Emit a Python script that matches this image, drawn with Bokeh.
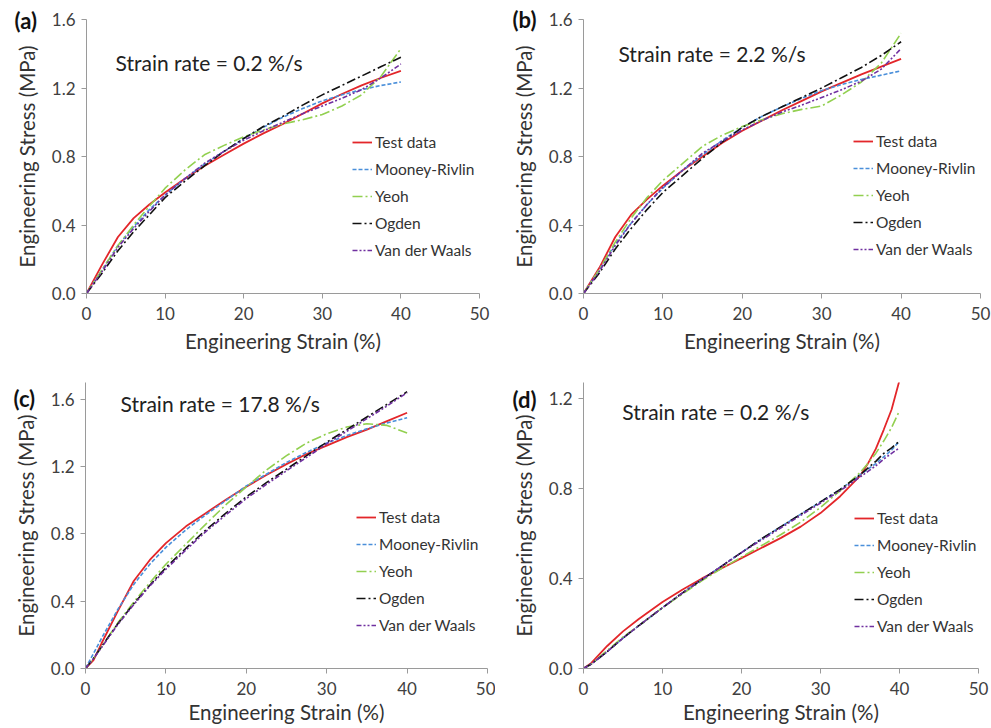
from bokeh.plotting import figure
from bokeh.models import Legend, LegendItem, Label, FixedTicker, PrintfTickFormatter, Range1d
from bokeh.layouts import column, row
from bokeh.embed import file_html
from bokeh.resources import INLINE

FONT = "Lato"

# ---------------- data ----------------
series_names = ["Test data", "Mooney-Rivlin", "Yeoh", "Ogden", "Van der Waals"]

# Panel (a) strain rate 0.2 %/s
strain_a = [0, 2, 4, 6, 8, 10, 12.5, 15, 17.5, 20, 22.5, 25, 27.5, 30, 32.5, 35, 37.5, 40]
test_a   = [0, 0.17, 0.33, 0.44, 0.52, 0.59, 0.67, 0.745, 0.81, 0.875, 0.935, 0.99, 1.05, 1.11, 1.165, 1.215, 1.26, 1.30]
mooney_a = [0, 0.14, 0.28, 0.39, 0.49, 0.575, 0.67, 0.755, 0.83, 0.905, 0.97, 1.03, 1.08, 1.125, 1.16, 1.19, 1.215, 1.235]
yeoh_a   = [0, 0.14, 0.28, 0.40, 0.51, 0.615, 0.72, 0.81, 0.865, 0.915, 0.955, 0.99, 1.015, 1.045, 1.095, 1.16, 1.27, 1.43]
ogden_a  = [0, 0.12, 0.25, 0.36, 0.46, 0.56, 0.655, 0.745, 0.83, 0.905, 0.975, 1.035, 1.10, 1.16, 1.215, 1.27, 1.325, 1.38]
vdw_a    = [0, 0.13, 0.27, 0.38, 0.48, 0.575, 0.67, 0.76, 0.83, 0.895, 0.95, 1.0, 1.05, 1.095, 1.14, 1.19, 1.26, 1.34]

# Panel (b) strain rate 2.2 %/s
strain_b = [0, 2, 4, 6, 8, 10, 12.5, 15, 17.5, 20, 22.5, 25, 27.5, 30, 32.5, 35, 37.5, 40]
test_b   = [0, 0.15, 0.33, 0.46, 0.55, 0.63, 0.72, 0.80, 0.88, 0.95, 1.01, 1.07, 1.125, 1.18, 1.23, 1.28, 1.325, 1.37]
mooney_b = [0, 0.14, 0.29, 0.41, 0.52, 0.615, 0.72, 0.81, 0.895, 0.97, 1.035, 1.09, 1.14, 1.185, 1.22, 1.25, 1.275, 1.30]
yeoh_b   = [0, 0.14, 0.30, 0.44, 0.56, 0.66, 0.76, 0.86, 0.925, 0.975, 1.015, 1.05, 1.075, 1.095, 1.16, 1.235, 1.345, 1.52]
ogden_b  = [0, 0.12, 0.26, 0.38, 0.49, 0.59, 0.69, 0.79, 0.885, 0.97, 1.035, 1.09, 1.145, 1.20, 1.26, 1.32, 1.39, 1.47]
vdw_b    = [0, 0.13, 0.28, 0.41, 0.52, 0.62, 0.72, 0.82, 0.89, 0.955, 1.01, 1.06, 1.10, 1.145, 1.19, 1.24, 1.31, 1.43]

# Panel (c) strain rate 17.8 %/s
strain_c = [0, 1, 2, 4, 6, 8, 10, 12.5, 15, 17.5, 20, 22.5, 25, 27.5, 30, 32.5, 35, 37.5, 40]
test_c   = [0, 0.05, 0.15, 0.34, 0.52, 0.645, 0.745, 0.845, 0.925, 1.005, 1.08, 1.15, 1.215, 1.275, 1.325, 1.375, 1.42, 1.47, 1.52]
mooney_c = [0, 0.09, 0.18, 0.35, 0.50, 0.62, 0.72, 0.825, 0.915, 1.0, 1.085, 1.155, 1.225, 1.285, 1.34, 1.385, 1.425, 1.46, 1.49]
yeoh_c   = [0, 0.06, 0.13, 0.27, 0.395, 0.51, 0.62, 0.74, 0.86, 0.975, 1.08, 1.18, 1.265, 1.34, 1.395, 1.435, 1.455, 1.445, 1.40]
ogden_c  = [0, 0.06, 0.13, 0.265, 0.385, 0.495, 0.60, 0.715, 0.825, 0.925, 1.02, 1.105, 1.185, 1.265, 1.345, 1.42, 1.495, 1.57, 1.645]
vdw_c    = [0, 0.06, 0.125, 0.26, 0.38, 0.49, 0.59, 0.705, 0.815, 0.915, 1.01, 1.095, 1.175, 1.255, 1.335, 1.41, 1.485, 1.56, 1.64]

# Panel (d) strain rate 0.2 %/s
strain_d = [0, 1, 3, 5, 7, 10, 12.5, 15, 17.5, 20, 22.5, 25, 27.5, 30, 32.5, 35, 36, 37, 38, 39, 40]
test_d   = [0, 0.025, 0.10, 0.165, 0.22, 0.295, 0.35, 0.40, 0.445, 0.49, 0.535, 0.58, 0.63, 0.69, 0.765, 0.855, 0.91, 0.975, 1.06, 1.15, 1.28]
mooney_d = [0, 0.02, 0.075, 0.135, 0.19, 0.27, 0.335, 0.395, 0.455, 0.515, 0.575, 0.63, 0.685, 0.74, 0.795, 0.86, 0.885, 0.91, 0.94, 0.97, 1.01]
yeoh_d   = [0, 0.02, 0.08, 0.14, 0.19, 0.27, 0.33, 0.39, 0.445, 0.495, 0.545, 0.595, 0.65, 0.715, 0.79, 0.87, 0.91, 0.955, 1.01, 1.07, 1.145]
ogden_d  = [0, 0.02, 0.075, 0.135, 0.19, 0.27, 0.335, 0.395, 0.455, 0.515, 0.575, 0.63, 0.685, 0.74, 0.795, 0.86, 0.89, 0.92, 0.955, 0.98, 1.01]
vdw_d    = [0, 0.02, 0.075, 0.135, 0.19, 0.27, 0.335, 0.395, 0.455, 0.515, 0.57, 0.625, 0.68, 0.735, 0.79, 0.85, 0.875, 0.90, 0.93, 0.955, 0.98]

x_ticks = [0, 10, 20, 30, 40, 50]
y_ticks_abc = [0, 0.4, 0.8, 1.2, 1.6]
y_ticks_d = [0, 0.4, 0.8, 1.2]

styles = [
    dict(color="#E3262A", dash="solid", width=1.8),
    dict(color="#4A8FDA", dash="4 2", width=1.6),
    dict(color="#92D050", dash="10 3 2 3", width=1.6),
    dict(color="#111111", dash="9 3 2 3", width=1.6),
    dict(color="#7030A0", dash="5 2 2 2 2 2", width=1.6),
]


def make_panel(strain, ys, ymax, yticks, width, height, borders, legend_loc,
               rate_text, rate_pos, letter, letter_offset, letter_standoff, xlabel_standoff):
    left, right, top, bottom = borders
    p = figure(width=width, height=height, output_backend="svg", toolbar_location=None,
               x_range=Range1d(0, 50), y_range=Range1d(0, ymax),
               min_border_left=left, min_border_right=right,
               min_border_top=top, min_border_bottom=bottom, title=letter)
    p.outline_line_color = None
    p.grid.visible = False
    p.background_fill_color = "white"
    p.border_fill_color = "white"

    # panel letter drawn as the plot title, pulled down beside the top tick
    p.title.text_font = FONT
    p.title.text_font_size = "22px"
    p.title.text_font_style = "bold"
    p.title.text_color = "#111111"
    p.title.align = "left"
    p.title.vertical_align = "bottom"
    p.title.offset = letter_offset
    p.title.standoff = letter_standoff

    for ax in (p.xaxis[0], p.yaxis[0]):
        ax.axis_line_color = "#9a9a9a"
        ax.major_tick_line_color = "#9a9a9a"
        ax.minor_tick_line_color = None
        ax.major_tick_in = 0
        ax.major_tick_out = 5
        ax.major_label_text_font = FONT
        ax.major_label_text_font_size = "17px"
        ax.major_label_text_color = "#404040"
        ax.axis_label_text_font = FONT
        ax.axis_label_text_font_size = "20.5px"
        ax.axis_label_text_font_style = "normal"
        ax.axis_label_text_color = "#333333"
    p.xaxis.ticker = FixedTicker(ticks=x_ticks)
    p.yaxis.ticker = FixedTicker(ticks=yticks)
    p.yaxis.formatter = PrintfTickFormatter(format="%.1f")
    p.xaxis.axis_label = "Engineering Strain (%)"
    p.yaxis.axis_label = "Engineering Stress (MPa)"
    p.xaxis.major_label_standoff = 8
    p.yaxis.major_label_standoff = 6
    p.yaxis.axis_label_standoff = 10
    p.xaxis.axis_label_standoff = xlabel_standoff

    items = []
    for name, y, st in zip(series_names, ys, styles):
        r = p.line(strain, y, line_color=st["color"], line_dash=st["dash"],
                   line_width=st["width"])
        items.append(LegendItem(label=name, renderers=[r]))
    legend = Legend(items=items, location=legend_loc, orientation="vertical",
                    background_fill_alpha=0, border_line_color=None,
                    label_text_font=FONT, label_text_font_size="15.5px",
                    label_text_color="#333333", glyph_width=20, glyph_height=20,
                    label_height=20, spacing=7, padding=0, margin=0, label_standoff=3)
    p.add_layout(legend, "center")

    p.add_layout(Label(x=rate_pos[0], y=rate_pos[1], text=rate_text,
                       text_font=FONT, text_font_size="21px", text_color="#222222",
                       text_baseline="middle", text_align="left"))
    return p


pa = make_panel(strain_a, [test_a, mooney_a, yeoh_a, ogden_a, vdw_a], 1.6, y_ticks_abc,
                495, 360, (86, 16, 19, 67), (266, 33),
                "Strain rate =  0.2 %/s", (3.7, 1.35), "(a)", -72, -28, 6)
pb = make_panel(strain_b, [test_b, mooney_b, yeoh_b, ogden_b, vdw_b], 1.6, y_ticks_abc,
                496, 360, (88, 11, 19, 67), (270, 34),
                "Strain rate =  2.2 %/s", (4.4, 1.40), "(b)", -71, -26, 6)
pc = make_panel(strain_c, [test_c, mooney_c, yeoh_c, ogden_c, vdw_c], 1.7, y_ticks_abc,
                495, 368, (85, 8, 22, 60), (271, 33),
                "Strain rate =  17.8 %/s", (4.35, 1.576), "(c)", -72, -58, 2)
pd = make_panel(strain_d, [test_d, mooney_d, yeoh_d, ogden_d, vdw_d], 1.27, y_ticks_d,
                496, 368, (88, 13, 22, 60), (271, 32),
                "Strain rate =  0.2 %/s", (4.9, 1.14), "(d)", -71, -61, 2)

layout = column(row(pa, pb), row(pc, pd))

open("out.html", "w").write(file_html(layout, INLINE))
